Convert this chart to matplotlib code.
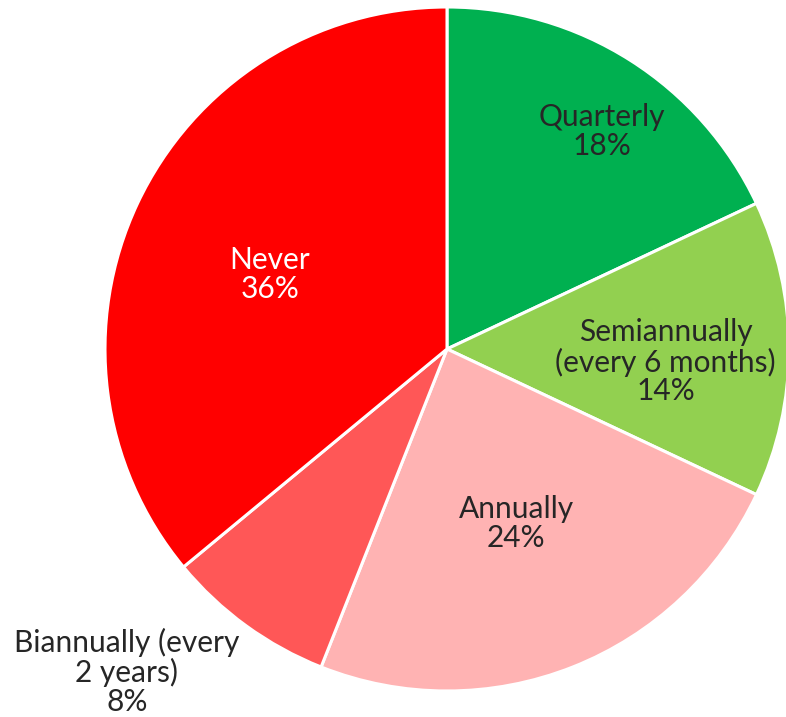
import matplotlib.pyplot as plt
import numpy as np

# data
labels = ["Quarterly", "Semiannually\n(every 6 months)", "Annually",
          "Biannually (every\n2 years)", "Never"]
values = [18, 14, 24, 8, 36]
colors = ["#00b050", "#92d050", "#ffb3b3", "#ff5757", "#ff0000"]
text_colors = ["#262626", "#262626", "#262626", "#262626", "white"]

# label placement: radius and angle tweak (deg) along the wedge mid-angle
label_r = [0.78, 0.64, 0.55, None, 0.562]
label_dang = [-3.1, -3.4, 0.0, 0.0, 2.3]
outside_pos = (-0.936, -0.945)

fig = plt.figure(figsize=(7.86, 7.17), dpi=100)
ax = fig.add_axes([105 / 786, 26 / 717, 684 / 786, 684 / 717])

wedges, _ = ax.pie(values, colors=colors, startangle=90, counterclock=False,
                   radius=1.0, wedgeprops=dict(edgecolor="white", linewidth=2.2))
ax.set_xlim(-1, 1)
ax.set_ylim(-1, 1)
ax.set_aspect("auto")
ax.axis("off")

for w, lab, v, r, da, tc in zip(wedges, labels, values, label_r, label_dang, text_colors):
    mid = np.deg2rad((w.theta1 + w.theta2) / 2 + da)
    if r is None:
        x, y = outside_pos
    else:
        x, y = r * np.cos(mid), r * np.sin(mid)
    ax.text(x, y, "{}\n{}%".format(lab, v), ha="center", va="center",
            fontsize=21.5, family="Lato", color=tc,
            linespacing=1.04, clip_on=False)

fig.savefig("out.png", dpi=100)
